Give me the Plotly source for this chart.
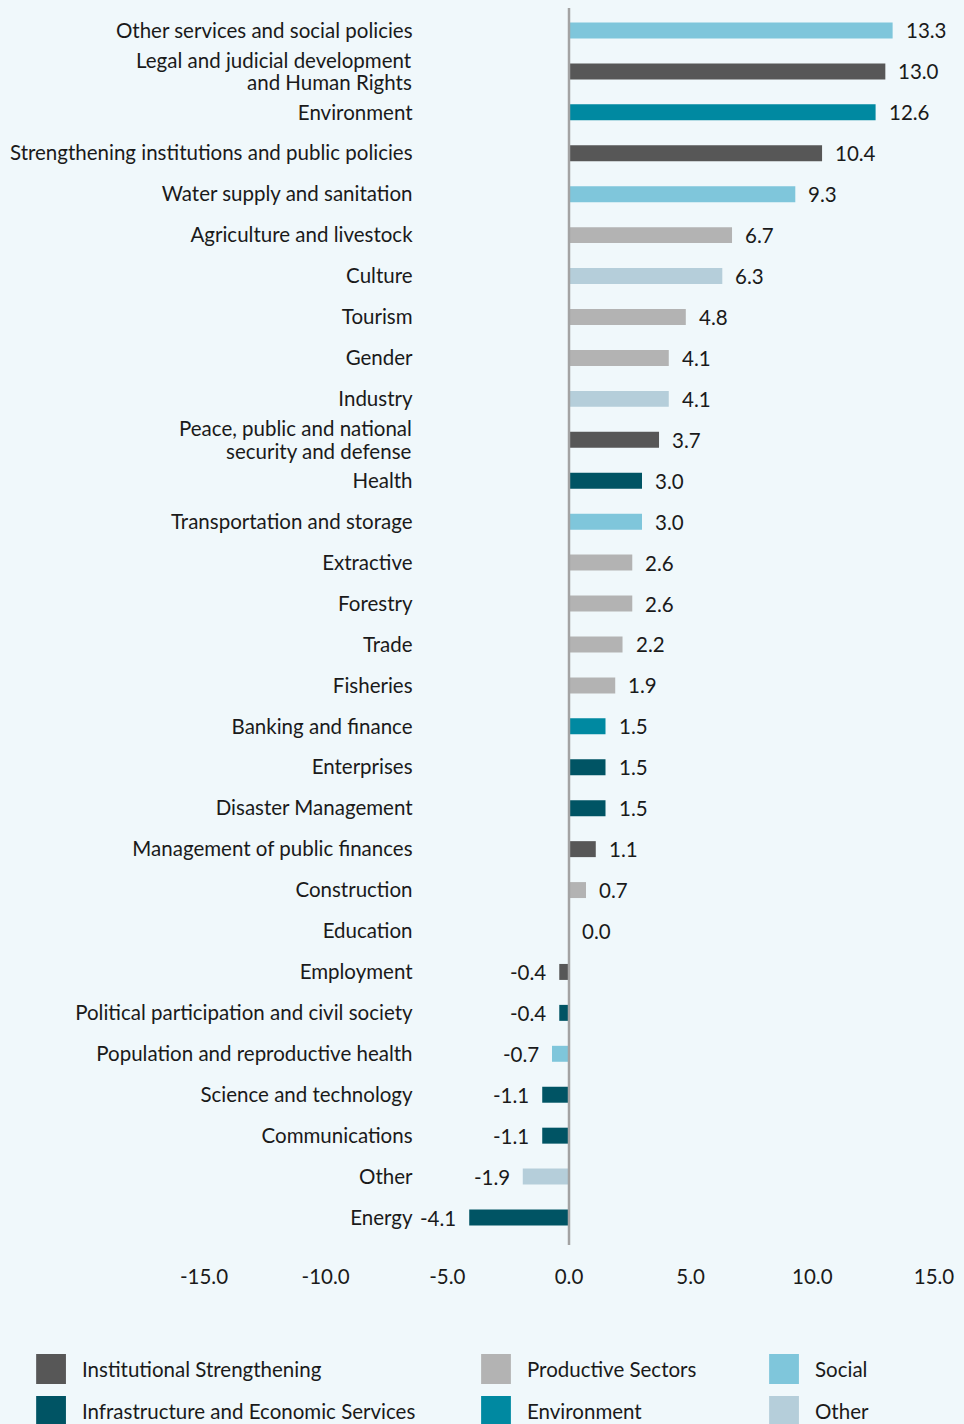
import plotly.graph_objects as go

categories = [
    "Other services and social policies",
    "Legal and judicial development<br>and Human Rights",
    "Environment",
    "Strengthening institutions and public policies",
    "Water supply and sanitation",
    "Agriculture and livestock",
    "Culture",
    "Tourism",
    "Gender",
    "Industry",
    "Peace, public and national<br>security and defense",
    "Health",
    "Transportation and storage",
    "Extractive",
    "Forestry",
    "Trade",
    "Fisheries",
    "Banking and finance",
    "Enterprises",
    "Disaster Management",
    "Management of public finances",
    "Construction",
    "Education",
    "Employment",
    "Political participation and civil society",
    "Population and reproductive health",
    "Science and technology",
    "Communications",
    "Other",
    "Energy",
]
values = [13.3, 13.0, 12.6, 10.4, 9.3, 6.7, 6.3, 4.8, 4.1, 4.1, 3.7, 3.0, 3.0, 2.6, 2.6,
          2.2, 1.9, 1.5, 1.5, 1.5, 1.1, 0.7, 0.0, -0.4, -0.4, -0.7, -1.1, -1.1, -1.9, -4.1]
groups = ["Social", "Institutional Strengthening", "Environment", "Institutional Strengthening",
          "Social", "Productive Sectors", "Other", "Productive Sectors", "Productive Sectors",
          "Other", "Institutional Strengthening", "Infrastructure and Economic Services", "Social",
          "Productive Sectors", "Productive Sectors", "Productive Sectors", "Productive Sectors",
          "Environment", "Infrastructure and Economic Services", "Infrastructure and Economic Services",
          "Institutional Strengthening", "Productive Sectors", "Productive Sectors",
          "Institutional Strengthening", "Infrastructure and Economic Services", "Social",
          "Infrastructure and Economic Services", "Infrastructure and Economic Services", "Other",
          "Infrastructure and Economic Services"]
legend_order = ["Institutional Strengthening", "Productive Sectors", "Social",
                "Infrastructure and Economic Services", "Environment", "Other"]
x_ticks = [-15, -10, -5, 0, 5, 10, 15]

colors = {
    "Institutional Strengthening": "#575757",
    "Productive Sectors": "#B3B3B3",
    "Social": "#7FC6DB",
    "Infrastructure and Economic Services": "#005464",
    "Environment": "#0089A1",
    "Other": "#B5CEDA",
}

FONT = "Lato, 'Open Sans', sans-serif"
TXT = "#1a1a1a"
BG = "#F0F8FB"
FS = 20.5
W, H = 964, 1424
ML, MR, MT, MB = 201, 28, 10, 186
PW, PH = W - ML - MR, H - MT - MB

def px_x(p):
    return (p - ML) / PW

def px_y(p):
    return (H - MB - p) / PH

fig = go.Figure()
fig.add_trace(go.Bar(
    x=values, y=categories, orientation="h",
    marker=dict(color=[colors[g] for g in groups], line=dict(width=0)),
    width=0.39, showlegend=False, hoverinfo="x",
))

annotations = []
for c, v in zip(categories, values):
    annotations.append(dict(
        x=v, y=c, xref="x", yref="y", text=f"{v:.1f}", showarrow=False,
        xanchor="left" if v >= 0 else "right", xshift=11 if v >= 0 else -11,
        font=dict(family=FONT, size=FS, color=TXT),
    ))

# category labels: single-line ones on the axis, two-line ones as tighter annotations
ticktext = []
for c in categories:
    if "<br>" in c:
        ticktext.append("")
        first, second = c.split("<br>")
        for line, dy in ((first, 11.5), (second, -11)):
            annotations.append(dict(x=px_x(412), y=c, xref="paper", yref="y", text=line,
                                    showarrow=False, xanchor="right", yanchor="middle",
                                    yshift=dy, font=dict(family=FONT, size=FS, color=TXT)))
    else:
        ticktext.append(c)

shapes = [dict(type="line", xref="x", yref="paper", x0=0, x1=0,
               y0=px_y(1245), y1=px_y(8), line=dict(color="#A3A3A3", width=2.5), layer="above")]
col_x = [32, 480, 770]
row_y = [1369, 1411]
for i, name in enumerate(legend_order):
    cx = col_x[i % 3]
    cy = row_y[i // 3]
    shapes.append(dict(type="rect", xref="paper", yref="paper",
                       x0=px_x(cx), x1=px_x(cx + 30), y0=px_y(cy + 15), y1=px_y(cy - 15),
                       fillcolor=colors[name], line=dict(width=0), layer="above"))
    annotations.append(dict(x=px_x(cx + 44), y=px_y(cy), xref="paper", yref="paper",
                            text=name, showarrow=False, xanchor="left", yanchor="middle",
                            font=dict(family=FONT, size=FS, color=TXT)))

fig.update_layout(
    width=W, height=H,
    margin=dict(l=ML, r=MR, t=MT, b=MB),
    paper_bgcolor=BG, plot_bgcolor=BG,
    font=dict(family=FONT, size=FS, color=TXT),
    xaxis=dict(range=[-15, 15], tickvals=x_ticks, ticktext=[f"{t:.1f}" for t in x_ticks],
               showgrid=False, zeroline=False,
               showline=False, ticks="outside", ticklen=20, tickcolor="rgba(0,0,0,0)",
               tickfont=dict(family=FONT, size=FS, color=TXT), fixedrange=True),
    yaxis=dict(categoryorder="array", categoryarray=categories, range=[29.5, -0.5],
               tickmode="array", tickvals=categories, ticktext=ticktext,
               showgrid=False, zeroline=False, showline=False, ticks="",
               anchor="free", position=px_x(411),
               tickfont=dict(family=FONT, size=FS, color=TXT), fixedrange=True),
    shapes=shapes, annotations=annotations,
)

fig.write_html("out.html", config={"displayModeBar": False}, post_script=(
    "document.body.style.margin='0';document.body.style.background='%s';" % BG))
